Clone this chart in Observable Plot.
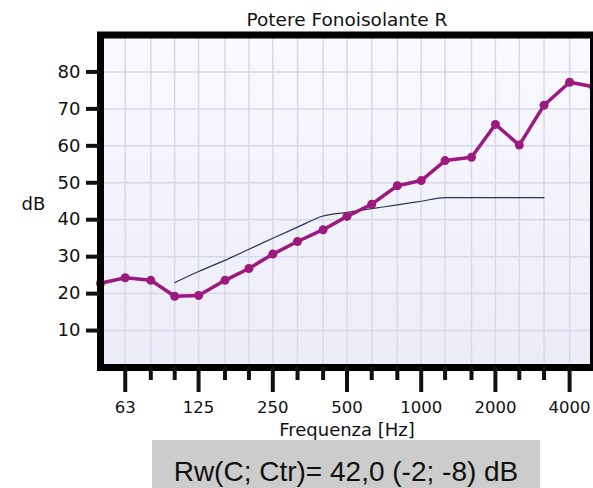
<!DOCTYPE html>
<html>
<head>
<meta charset="utf-8">
<script src="https://cdn.jsdelivr.net/npm/d3@7"></script>
<script src="https://cdn.jsdelivr.net/npm/@observablehq/plot@0.6"></script>
<style>
  body { margin: 0; background: #fff; width: 593px; overflow: hidden; }
  #chart svg { display: block; }
  #rw {
    margin-left: 152px; width: 388px; height: 32px; padding-top: 16px;
    line-height: 32px; background: #cccccc; text-align: center;
    font-family: "Liberation Sans", Arial, sans-serif; font-size: 28px; color: #111;
    white-space: nowrap; overflow: hidden;
  }
</style>
</head>
<body>
<div id="chart"></div>
<div id="rw"></div>
<script>
// Third-octave band centre frequencies (Hz)
const freqs = [50, 63, 80, 100, 125, 160, 200, 250, 315, 400, 500, 630, 800, 1000, 1250, 1600, 2000, 2500, 3150, 4000, 5000];
// Measured sound reduction index R (dB)
const rValues = [22.8, 24.3, 23.6, 19.3, 19.5, 23.6, 26.8, 30.7, 34.1, 37.3, 40.9, 44.2, 49.2, 50.6, 56.0, 56.9, 65.8, 60.2, 71.0, 77.2, 76.0];
// Shifted ISO 717-1 reference curve
const refFreqs = [100, 125, 160, 200, 250, 315, 400, 500, 630, 800, 1000, 1250, 1600, 2000, 2500, 3150];
const refValues = [23, 26, 29, 32, 35, 38, 41, 42, 43, 44, 45, 46, 46, 46, 46, 46];
// Axis ticks
const majorTicks = [63, 125, 250, 500, 1000, 2000, 4000];
const minorTicks = [80, 100, 160, 200, 315, 400, 630, 800, 1250, 1600, 2500, 3150];
const yTicks = [10, 20, 30, 40, 50, 60, 70, 80];
const gridY = [10, 20, 30, 40, 50, 60, 70, 80];
const titleText = "Potere Fonoisolante R";
const xLabel = "Frequenza [Hz]";
const yLabel = "dB";
const rwText = "Rw(C; Ctr)= 42,0 (-2; -8) dB";

const measured = freqs.map((f, i) => ({f, v: rValues[i]}));
const reference = refFreqs.map((f, i) => ({f, v: refValues[i]}));

const defs = () => {
  const d = d3.create("svg:defs");
  const g = d.append("linearGradient").attr("id", "bggrad")
    .attr("x1", 0).attr("y1", 0).attr("x2", 0).attr("y2", 1);
  g.append("stop").attr("offset", "0%").attr("stop-color", "#f9f9ff");
  g.append("stop").attr("offset", "100%").attr("stop-color", "#ececf8");
  return d.node();
};

const magenta = "#9c1a7d";
const font = "DejaVu Sans, Verdana, sans-serif";

const chart = Plot.plot({
  width: 593,
  height: 440,
  marginLeft: 100,
  marginRight: 0,
  marginTop: 34.5,
  marginBottom: 73,
  style: {fontFamily: font, fontSize: "17px", color: "#111", background: "#fff"},
  x: {type: "log", domain: [50, 5000]},
  y: {domain: [0, 90]},
  marks: [
    defs,
    Plot.frame({fill: "url(#bggrad)", stroke: null}),
    Plot.ruleX(freqs, {stroke: "#d8d9e8", strokeWidth: 1.5}),
    Plot.ruleY(gridY, {stroke: "#d8d9e8", strokeWidth: 1.5}),
    Plot.line(reference, {x: "f", y: "v", stroke: "#2b3350", strokeWidth: 1.2, curve: "monotone-x"}),
    Plot.line(measured, {x: "f", y: "v", stroke: magenta, strokeWidth: 3.5}),
    Plot.dot(measured, {x: "f", y: "v", r: 4.5, fill: magenta, stroke: null}),
    Plot.frame({stroke: "#000", strokeWidth: 7}),
    Plot.axisY({ticks: yTicks, tickSize: 14, tickPadding: 6, strokeWidth: 4, fontSize: 18, label: null, tickFormat: d => String(d)}),
    Plot.axisX({ticks: minorTicks, tickSize: 13, strokeWidth: 4, label: null, tickFormat: () => ""}),
    Plot.axisX({ticks: majorTicks, tickSize: 25, strokeWidth: 4, label: null, tickFormat: () => ""}),
    Plot.text(majorTicks, {x: d => d, frameAnchor: "bottom", lineAnchor: "middle", dy: 40, text: d => String(d), fontSize: 16.5, fill: "#111"}),
    Plot.text([titleText], {frameAnchor: "top", lineAnchor: "middle", dy: -15, text: d => d, fontSize: 18.5, fill: "#111"}),
    Plot.text([xLabel], {frameAnchor: "bottom", lineAnchor: "middle", dy: 63, text: d => d, fontSize: 18, fill: "#111"}),
    Plot.text([yLabel], {frameAnchor: "left", lineAnchor: "middle", dx: -79, dy: 3, text: d => d, fontSize: 18, fill: "#111"})
  ]
});
document.getElementById("chart").appendChild(chart);
document.getElementById("rw").textContent = rwText;
</script>
</body>
</html>
